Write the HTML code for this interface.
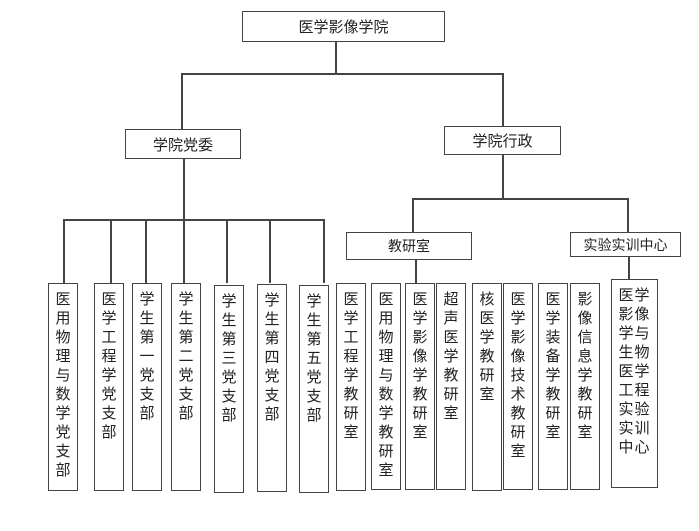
<!DOCTYPE html>
<html><head><meta charset="utf-8"><style>
html,body{margin:0;padding:0;background:#fff;}
body{width:699px;height:531px;position:relative;overflow:hidden;font-family:"Liberation Sans","Noto Sans CJK SC",sans-serif;color:#222;}
.b{position:absolute;border:1.5px solid #444;box-sizing:border-box;background:#fff;}
.h{display:flex;align-items:center;justify-content:center;font-size:14px;}
.v{text-align:center;font-size:15px;line-height:19px;padding-top:6px;}
.l{position:absolute;background:#444;}
</style></head><body>
<!-- lines -->
<div class="l" style="left:335px;top:42px;width:1.5px;height:32px"></div>
<div class="l" style="left:181px;top:73px;width:322px;height:1.5px"></div>
<div class="l" style="left:181px;top:73px;width:1.5px;height:56px"></div>
<div class="l" style="left:502px;top:73px;width:1.5px;height:53px"></div>
<div class="l" style="left:183px;top:159px;width:1.5px;height:124px"></div>
<div class="l" style="left:63px;top:219px;width:261px;height:1.5px"></div>
<div class="l" style="left:63px;top:219px;width:1.5px;height:64px"></div>
<div class="l" style="left:110px;top:219px;width:1.5px;height:64px"></div>
<div class="l" style="left:145px;top:219px;width:1.5px;height:64px"></div>
<div class="l" style="left:226px;top:219px;width:1.5px;height:64px"></div>
<div class="l" style="left:269px;top:219px;width:1.5px;height:64px"></div>
<div class="l" style="left:323px;top:219px;width:1.5px;height:64px"></div>
<div class="l" style="left:502px;top:155px;width:1.5px;height:43px"></div>
<div class="l" style="left:412px;top:198px;width:216px;height:1.5px"></div>
<div class="l" style="left:412px;top:198px;width:1.5px;height:34px"></div>
<div class="l" style="left:627px;top:198px;width:1.5px;height:34px"></div>
<div class="l" style="left:415px;top:260px;width:1.5px;height:23px"></div>
<div class="l" style="left:628px;top:257px;width:1.5px;height:22px"></div>

<div class="b h" style="left:242px;top:11px;width:203px;height:31px;font-size:15px">医学影像学院</div>
<div class="b h" style="left:125px;top:129px;width:116px;height:30px;font-size:15px">学院党委</div>
<div class="b h" style="left:444px;top:126px;width:117px;height:29px;font-size:15px">学院行政</div>
<div class="b h" style="left:346px;top:232px;width:126px;height:28px">教研室</div>
<div class="b h" style="left:570px;top:232px;width:111px;height:25px">实验实训中心</div>

<div class="b v" style="left:48px;top:283px;width:30px;height:208px">医<br>用<br>物<br>理<br>与<br>数<br>学<br>党<br>支<br>部</div>
<div class="b v" style="left:94px;top:283px;width:30px;height:208px">医<br>学<br>工<br>程<br>学<br>党<br>支<br>部</div>
<div class="b v" style="left:132px;top:283px;width:30px;height:208px">学<br>生<br>第<br>一<br>党<br>支<br>部</div>
<div class="b v" style="left:171px;top:283px;width:30px;height:208px">学<br>生<br>第<br>二<br>党<br>支<br>部</div>
<div class="b v" style="left:214px;top:285px;width:30px;height:208px">学<br>生<br>第<br>三<br>党<br>支<br>部</div>
<div class="b v" style="left:257px;top:284px;width:30px;height:208px">学<br>生<br>第<br>四<br>党<br>支<br>部</div>
<div class="b v" style="left:299px;top:285px;width:30px;height:208px">学<br>生<br>第<br>五<br>党<br>支<br>部</div>

<div class="b v" style="left:336px;top:283px;width:30px;height:208px">医<br>学<br>工<br>程<br>学<br>教<br>研<br>室</div>
<div class="b v" style="left:371px;top:283px;width:30px;height:207px">医<br>用<br>物<br>理<br>与<br>数<br>学<br>教<br>研<br>室</div>
<div class="b v" style="left:405px;top:283px;width:30px;height:207px">医<br>学<br>影<br>像<br>学<br>教<br>研<br>室</div>
<div class="b v" style="left:436px;top:283px;width:30px;height:207px">超<br>声<br>医<br>学<br>教<br>研<br>室</div>
<div class="b v" style="left:472px;top:283px;width:30px;height:208px">核<br>医<br>学<br>教<br>研<br>室</div>
<div class="b v" style="left:503px;top:283px;width:30px;height:207px">医<br>学<br>影<br>像<br>技<br>术<br>教<br>研<br>室</div>
<div class="b v" style="left:538px;top:283px;width:30px;height:207px">医<br>学<br>装<br>备<br>学<br>教<br>研<br>室</div>
<div class="b v" style="left:570px;top:283px;width:30px;height:207px">影<br>像<br>信<br>息<br>学<br>教<br>研<br>室</div>
<div class="b v" style="left:611px;top:279px;width:47px;height:209px;padding-top:6px;letter-spacing:1px">医学<br>影像<br>学与<br>生物<br>医学<br>工程<br>实验<br>实训<br>中心</div>
</body></html>
